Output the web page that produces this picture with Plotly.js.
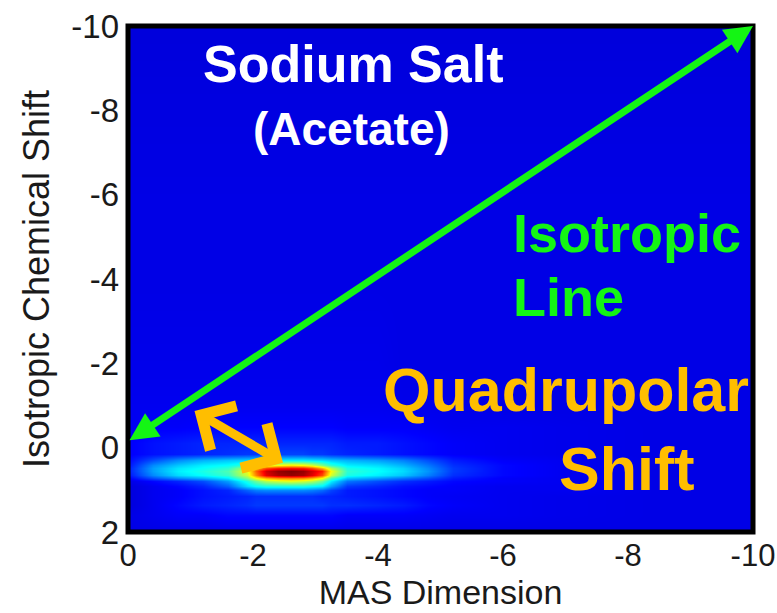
<!DOCTYPE html>
<html><head><meta charset="utf-8">
<script src="https://cdn.plot.ly/plotly-3.0.1.min.js"></script>
<style>html,body{margin:0;padding:0;background:#fff;}#chart{width:777px;height:613px;}</style>
</head><body><div id="chart"></div>
<script>
// MAS dimension (x) sample positions
const masValues = [0, -0.4, -0.8, -1.2, -1.6, -1.9, -2.05, -2.2, -2.4, -2.6, -2.8, -2.95, -3.1, -3.25, -3.5, -4.0, -4.4, -4.8, -5.2, -6, -7, -8.5, -10];
// Isotropic chemical shift (y) sample positions
const isoValues = [-10, -8, -6, -4, -2, -1, -0.5, -0.1, 0.15, 0.3, 0.4, 0.48, 0.56, 0.64, 0.72, 0.8, 0.9, 1.0, 1.15, 1.35, 1.6, 2];
// Normalised intensity, one row per isoValues entry
const intensity = [
  [0.09,0.09,0.09,0.09,0.09,0.09,0.09,0.09,0.09,0.09,0.09,0.09,0.09,0.09,0.09,0.09,0.09,0.09,0.09,0.09,0.09,0.09,0.09],
  [0.095,0.095,0.095,0.095,0.095,0.095,0.095,0.095,0.095,0.095,0.095,0.095,0.095,0.095,0.095,0.095,0.095,0.095,0.095,0.095,0.095,0.095,0.095],
  [0.1,0.1,0.1,0.1,0.1,0.1,0.1,0.1,0.1,0.1,0.1,0.1,0.1,0.1,0.1,0.1,0.1,0.1,0.1,0.1,0.1,0.1,0.1],
  [0.1,0.1,0.1,0.1,0.1,0.1,0.1,0.1,0.1,0.1,0.1,0.1,0.1,0.1,0.1,0.1,0.1,0.1,0.1,0.1,0.1,0.1,0.1],
  [0.105,0.105,0.105,0.105,0.105,0.105,0.105,0.105,0.105,0.105,0.105,0.105,0.105,0.105,0.105,0.105,0.1,0.1,0.1,0.1,0.1,0.1,0.1],
  [0.11,0.11,0.11,0.11,0.11,0.11,0.11,0.11,0.11,0.11,0.11,0.11,0.11,0.11,0.11,0.11,0.105,0.105,0.105,0.1,0.1,0.1,0.1],
  [0.11,0.12,0.12,0.125,0.125,0.125,0.125,0.125,0.125,0.125,0.125,0.125,0.125,0.125,0.12,0.12,0.12,0.115,0.11,0.11,0.105,0.1,0.1],
  [0.12,0.14,0.15,0.16,0.16,0.16,0.16,0.16,0.16,0.16,0.16,0.16,0.16,0.16,0.15,0.15,0.14,0.13,0.12,0.11,0.105,0.1,0.1],
  [0.12,0.14,0.15,0.16,0.17,0.18,0.18,0.19,0.19,0.19,0.19,0.18,0.18,0.17,0.16,0.15,0.14,0.13,0.12,0.11,0.105,0.1,0.1],
  [0.13,0.2,0.26,0.3,0.32,0.33,0.34,0.35,0.36,0.36,0.36,0.35,0.34,0.32,0.3,0.28,0.25,0.2,0.15,0.12,0.11,0.1,0.1],
  [0.14,0.26,0.32,0.36,0.38,0.42,0.5,0.58,0.62,0.64,0.62,0.58,0.5,0.42,0.36,0.34,0.3,0.24,0.17,0.13,0.11,0.1,0.1],
  [0.15,0.28,0.35,0.38,0.42,0.55,0.7,0.8,0.85,0.86,0.85,0.8,0.7,0.55,0.4,0.37,0.33,0.26,0.18,0.13,0.11,0.1,0.1],
  [0.15,0.28,0.36,0.4,0.45,0.6,0.78,0.92,0.98,1.0,0.98,0.92,0.85,0.62,0.42,0.38,0.34,0.27,0.18,0.13,0.11,0.1,0.1],
  [0.14,0.26,0.34,0.38,0.43,0.58,0.75,0.9,0.96,0.98,0.96,0.9,0.8,0.58,0.4,0.36,0.32,0.25,0.17,0.13,0.11,0.1,0.1],
  [0.12,0.2,0.26,0.3,0.36,0.5,0.62,0.7,0.74,0.75,0.74,0.7,0.62,0.45,0.32,0.28,0.24,0.2,0.15,0.12,0.11,0.1,0.1],
  [0.1,0.13,0.16,0.2,0.28,0.4,0.48,0.55,0.58,0.6,0.58,0.55,0.48,0.36,0.24,0.2,0.17,0.15,0.13,0.12,0.11,0.1,0.1],
  [0.09,0.11,0.13,0.16,0.22,0.34,0.38,0.4,0.4,0.4,0.4,0.38,0.36,0.28,0.18,0.16,0.14,0.13,0.12,0.11,0.11,0.1,0.1],
  [0.09,0.11,0.12,0.14,0.16,0.22,0.25,0.26,0.26,0.26,0.26,0.25,0.23,0.19,0.15,0.14,0.13,0.12,0.12,0.11,0.11,0.1,0.1],
  [0.09,0.11,0.12,0.14,0.15,0.16,0.17,0.17,0.17,0.17,0.17,0.17,0.16,0.16,0.15,0.14,0.13,0.12,0.115,0.11,0.105,0.1,0.1],
  [0.09,0.11,0.13,0.15,0.16,0.17,0.18,0.18,0.18,0.18,0.18,0.18,0.18,0.17,0.17,0.16,0.15,0.13,0.12,0.11,0.105,0.1,0.1],
  [0.1,0.11,0.12,0.12,0.13,0.13,0.13,0.13,0.13,0.13,0.13,0.13,0.13,0.13,0.12,0.12,0.12,0.115,0.11,0.11,0.105,0.1,0.1],
  [0.1,0.1,0.1,0.1,0.1,0.1,0.1,0.1,0.1,0.1,0.1,0.1,0.1,0.1,0.1,0.1,0.1,0.1,0.1,0.1,0.1,0.1,0.1]
];
const xTickVals = [0, -2, -4, -6, -8, -10];
const xTickText = ['0', '-2', '-4', '-6', '-8', '-10'];
const yTickVals = [-10, -8, -6, -4, -2, 0, 2];
const yTickText = ['-10', '-8', '-6', '-4', '-2', '0', '2'];
// Arrow end points (data units)
const isoLineFrom = [0, -0.15];
const isoLineTo = [-10, -10];
const quadFrom = [-1.04, -0.89];
const quadTo = [-2.48, 0.36];

const jet = [[0,'rgb(0,0,128)'],[0.125,'rgb(0,0,255)'],[0.375,'rgb(0,255,255)'],[0.625,'rgb(255,255,0)'],[0.875,'rgb(255,0,0)'],[1,'rgb(128,0,0)']];
const FONT = 'Liberation Sans, Arial, Helvetica, sans-serif';
const green = 'rgb(20,245,20)';
const orange = 'rgb(255,190,0)';

const trace = {
  type: 'heatmap', x: masValues, y: isoValues, z: intensity,
  colorscale: jet, zmin: 0, zmax: 1, zsmooth: 'best', showscale: false, hoverinfo: 'skip'
};

function txt(text, x, y, size, color, xanchor) {
  return {text: '<b>' + text + '</b>', x: x, y: y, xref: 'x', yref: 'y', showarrow: false,
    xanchor: xanchor || 'center', yanchor: 'middle', font: {family: FONT, size: size, color: color}};
}
function arrow(from, to, color, head, width, size) {
  return {text: '', x: to[0], y: to[1], ax: from[0], ay: from[1], xref: 'x', yref: 'y', axref: 'x', ayref: 'y',
    showarrow: true, arrowside: 'end+start', arrowhead: head, startarrowhead: head,
    arrowwidth: width, arrowsize: size, startarrowsize: size, arrowcolor: color, standoff: 0, startstandoff: 0};
}

const layout = {
  width: 777, height: 613,
  margin: {l: 128, r: 24, t: 26, b: 81},
  paper_bgcolor: '#fff', plot_bgcolor: 'rgb(0,0,220)',
  font: {family: FONT, color: '#1a1a1a'},
  xaxis: {range: [0, -10], tickvals: xTickVals, ticktext: xTickText, ticks: '', showgrid: false, zeroline: false,
    showline: false, ticklabelstandoff: 2, ticklabeloverflow: 'allow', tickfont: {size: 31, family: FONT, color: '#1a1a1a'},
    title: {text: 'MAS Dimension', font: {size: 34, family: FONT, color: '#1a1a1a'}, standoff: 6}},
  yaxis: {range: [2, -10], tickvals: yTickVals, ticktext: yTickText, ticks: '', showgrid: false, zeroline: false,
    showline: false, ticklabelstandoff: 8, ticklabeloverflow: 'allow', tickfont: {size: 33, family: FONT, color: '#1a1a1a'},
    title: {text: 'Isotropic Chemical Shift', font: {size: 36, family: FONT, color: '#1a1a1a'}, standoff: 10}},
  shapes: [{type: 'rect', xref: 'paper', yref: 'paper', x0: 0, x1: 1, y0: 0, y1: 1,
    line: {color: '#000', width: 5}, layer: 'above'}],
  annotations: [
    arrow(isoLineFrom, isoLineTo, green, 2, 7, 0.8),
    arrow(quadFrom, quadTo, orange, 4, 9, 1.1),
    txt('Sodium Salt', -3.6, -9.1, 52, '#fff'),
    txt('(Acetate)', -3.57, -7.56, 46, '#fff'),
    txt('Isotropic', -6.12, -5.09, 54, green, 'left'),
    txt('Line', -6.12, -3.57, 54, green, 'left'),
    txt('Quadrupolar', -7.01, -1.37, 61, orange),
    txt('Shift', -7.98, 0.5, 61, orange)
  ]
};
Plotly.newPlot('chart', [trace], layout, {displayModeBar: false, staticPlot: true});
</script></body></html>
